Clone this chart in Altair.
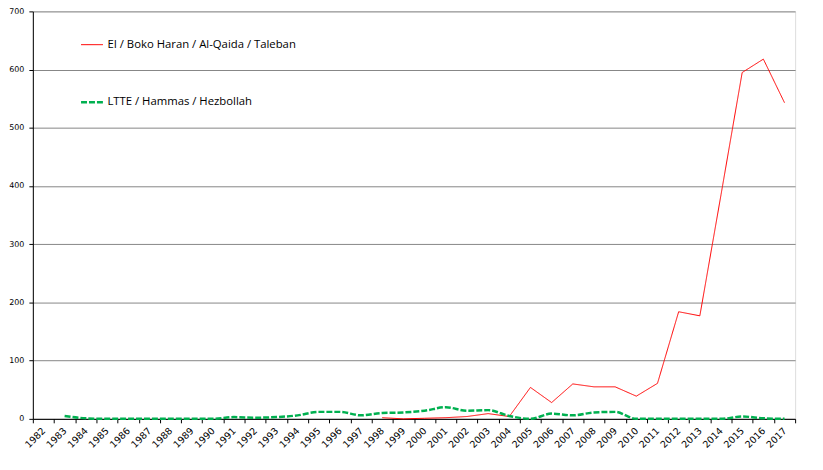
import altair as alt
import pandas as pd

years = [str(y) for y in range(1982, 2018)]
series_names = ["EI / Boko Haran / Al-Qaida / Taleban", "LTTE / Hammas / Hezbollah"]
red_values = [None] * 16 + [2, 0, 1, 2, 4, 9, 4, 54, 28, 60, 55, 55, 39, 61, 184, 177, 385, 595, 618, 543]
green_values = [None, 5, 1, 0, 0, 0, 0, 0, 0, 3, 2, 3, 6, 12, 12, 6, 10, 11, 14, 20,
                14, 15, 5, 0, 9, 6, 11, 12, 0, 0, 0, 0, 0, 4, 1, 0]
y_ticks = [0, 100, 200, 300, 400, 500, 600, 700]

rows = []
for name, vals in zip(series_names, [red_values, green_values]):
    for yr, v in zip(years, vals):
        if v is not None:
            rows.append({"year": yr, "value": v, "series": name})
df = pd.DataFrame(rows)

x_enc = alt.X(
    "year:O",
    scale=alt.Scale(type="band", domain=years, paddingInner=0, paddingOuter=0),
    bandPosition=0.5,
    axis=alt.Axis(
        title=None, labelAngle=315, labelAlign="right", labelBaseline="middle",
        labelFont="DejaVu Sans", labelFontSize=9.5, labelColor="#000000",
        labelPadding=6, tickBand="extent", tickSize=4, tickColor="#000000",
        domainColor="#000000", grid=False, labelOverlap=False,
    ),
)
y_enc = alt.Y(
    "value:Q",
    scale=alt.Scale(domain=[0, 700], nice=False),
    axis=alt.Axis(
        title=None, values=y_ticks, labelFont="DejaVu Sans", labelFontSize=8,
        labelColor="#000000", labelPadding=5, tickSize=4, tickColor="#000000",
        domainColor="#000000", gridColor="#868686", gridWidth=1,
    ),
)
color_enc = alt.Color(
    "series:N",
    scale=alt.Scale(domain=series_names, range=["#FF0000", "#00B050"]),
    legend=alt.Legend(
        title=None, orient="none", legendX=47, legendY=22, symbolType="stroke",
        symbolSize=484, labelFont="Open Sans", labelFontSize=11.4, labelColor="#000000",
        rowPadding=40, labelOffset=3, symbolStrokeWidth=2, labelLimit=500,
    ),
)
dash_enc = alt.StrokeDash(
    "series:N",
    scale=alt.Scale(domain=series_names, range=[[1, 0], [6, 2]]),
    legend=None,
)
width_enc = alt.StrokeWidth(
    "series:N",
    scale=alt.Scale(domain=series_names, range=[1, 2.5]),
    legend=None,
)

base = alt.Chart(df)
red = base.transform_filter(alt.datum.series == series_names[0]).mark_line(
    interpolate="linear"
).encode(x=x_enc, y=y_enc, color=color_enc, strokeDash=dash_enc, strokeWidth=width_enc)
green = base.transform_filter(alt.datum.series == series_names[1]).mark_line(
    interpolate="monotone"
).encode(x=x_enc, y=y_enc, color=color_enc, strokeDash=dash_enc, strokeWidth=width_enc)

chart = alt.layer(red, green).properties(
    width=767, height=410,
    autosize=alt.AutoSizeParams(type="none"),
    padding={"left": 25, "top": 2, "right": 20, "bottom": 40},
).configure_view(stroke=None).configure(background="#FFFFFF")

chart.save("out.html", embed_options={"renderer": "svg", "actions": False})
